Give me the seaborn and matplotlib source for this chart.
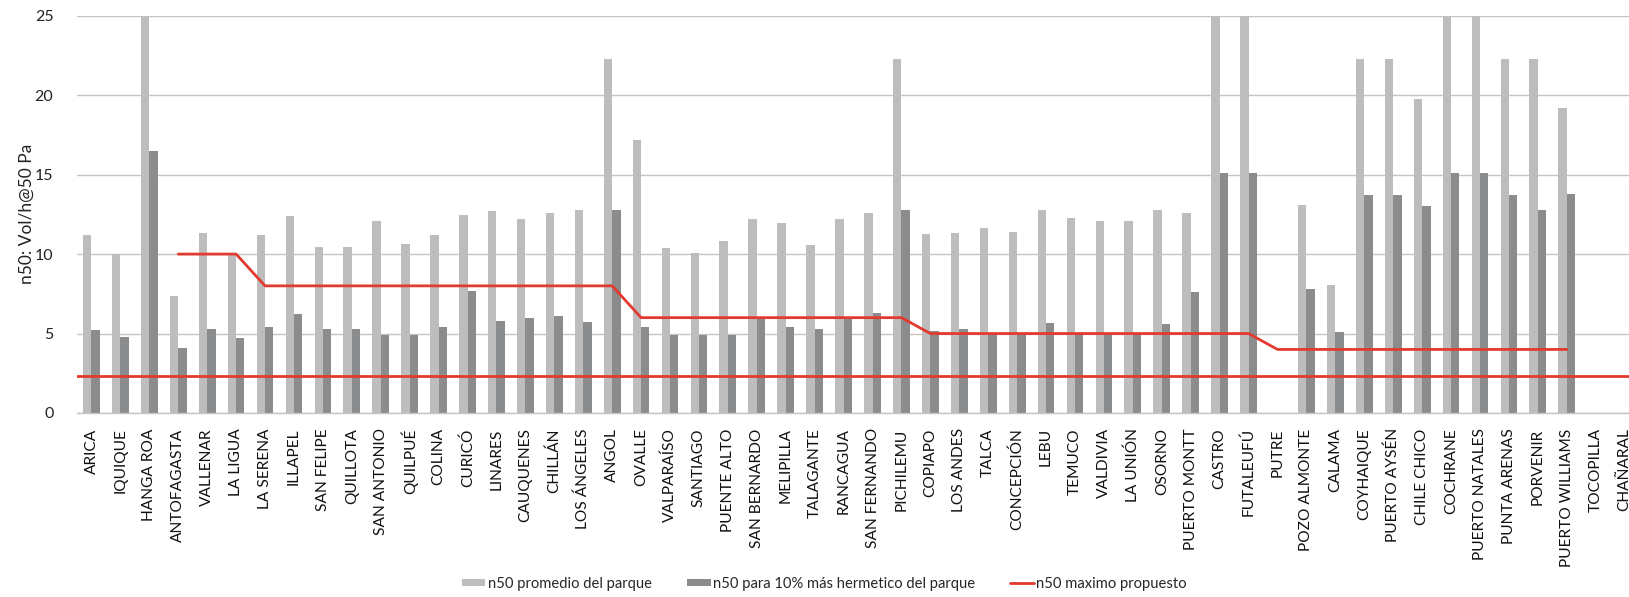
import numpy as np
import pandas as pd
import matplotlib
matplotlib.use("Agg")
import matplotlib.pyplot as plt
from matplotlib.patches import Patch
from matplotlib.lines import Line2D
import seaborn as sns

# categories (cities, north to south + a few at the end)
cities = [
    "ARICA", "IQUIQUE", "HANGA ROA", "ANTOFAGASTA", "VALLENAR", "LA LIGUA",
    "LA SERENA", "ILLAPEL", "SAN FELIPE", "QUILLOTA", "SAN ANTONIO", "QUILPUÉ",
    "COLINA", "CURICÓ", "LINARES", "CAUQUENES", "CHILLÁN", "LOS ÁNGELES",
    "ANGOL", "OVALLE", "VALPARAÍSO", "SANTIAGO", "PUENTE ALTO", "SAN BERNARDO",
    "MELIPILLA", "TALAGANTE", "RANCAGUA", "SAN FERNANDO", "PICHILEMU", "COPIAPO",
    "LOS ANDES", "TALCA", "CONCEPCIÓN", "LEBU", "TEMUCO", "VALDIVIA",
    "LA UNIÓN", "OSORNO", "PUERTO MONTT", "CASTRO", "FUTALEUFÚ", "PUTRE",
    "POZO ALMONTE", "CALAMA", "COYHAIQUE", "PUERTO AYSÉN", "CHILE CHICO", "COCHRANE",
    "PUERTO NATALES", "PUNTA ARENAS", "PORVENIR", "PUERTO WILLIAMS", "TOCOPILLA", "CHAÑARAL",
]

nan = np.nan
n50_promedio = [
    11.2, 10.0, 25.0, 7.35, 11.3, 10.0,
    11.2, 12.4, 10.45, 10.45, 12.1, 10.65,
    11.2, 12.45, 12.7, 12.2, 12.6, 12.8,
    22.3, 17.2, 10.4, 10.05, 10.8, 12.2,
    11.95, 10.6, 12.2, 12.6, 22.3, 11.25,
    11.35, 11.65, 11.4, 12.8, 12.3, 12.1,
    12.1, 12.75, 12.6, 25.0, 25.0, nan,
    13.1, 8.05, 22.3, 22.3, 19.75, 25.0,
    25.0, 22.3, 22.3, 19.2, nan, nan,
]
n50_hermetico = [
    5.2, 4.8, 16.5, 4.1, 5.3, 4.7,
    5.4, 6.2, 5.3, 5.3, 4.9, 4.9,
    5.4, 7.7, 5.8, 6.0, 6.1, 5.7,
    12.8, 5.4, 4.9, 4.9, 4.9, 6.0,
    5.4, 5.3, 6.0, 6.3, 12.8, 5.15,
    5.3, 5.05, 5.0, 5.65, 4.95, 4.95,
    4.95, 5.6, 7.6, 15.1, 15.1, nan,
    7.8, 5.1, 13.7, 13.7, 13.0, 15.1,
    15.1, 13.7, 12.8, 13.8, nan, nan,
]
n50_maximo = [
    nan, nan, nan, 10, 10, 10,
    8, 8, 8, 8, 8, 8,
    8, 8, 8, 8, 8, 8,
    8, 6, 6, 6, 6, 6,
    6, 6, 6, 6, 6, 5,
    5, 5, 5, 5, 5, 5,
    5, 5, 5, 5, 5, 4,
    4, 4, 4, 4, 4, 4,
    4, 4, 4, 4, nan, nan,
]
linea_base = 2.35

series_names = ["n50 promedio del parque", "n50 para 10% más hermetico del parque"]
label_max = "n50 maximo propuesto"

df = pd.DataFrame({
    "ciudad": cities * 2,
    "serie": [series_names[0]] * len(cities) + [series_names[1]] * len(cities),
    "n50": n50_promedio + n50_hermetico,
})

light = "#bebdbd"
dark = "#8a8c8d"
red = "#e23a2e"
grid_col = "#cbc3c1"

sns.set_style("white")
plt.rcParams["font.family"] = ["Lato", "DejaVu Sans"]

fig = plt.figure(figsize=(16.29, 5.97), dpi=100)
ax = fig.add_axes([77 / 1629, 1 - 413 / 597, 1 - 77 / 1629, (413 - 15.7) / 597])

sns.barplot(data=df, x="ciudad", y="n50", hue="serie", order=cities,
            hue_order=series_names, palette=[light, dark], width=0.58,
            errorbar=None, linewidth=0, saturation=1, legend=False,
            ax=ax, zorder=2)

sns.lineplot(x=np.arange(len(cities)), y=n50_maximo, color=red, lw=2.0,
             ax=ax, zorder=4)
ax.axhline(linea_base, color=red, lw=2.0, zorder=4)
if ax.get_legend() is not None:
    ax.get_legend().remove()

ax.set_xlim(-0.5, 53.15)
ax.set_ylim(0, 25)
ax.set_yticks([0, 5, 10, 15, 20, 25])
ax.yaxis.grid(True, color=grid_col, lw=1.0, zorder=0)
ax.set_axisbelow(True)
for s in ["left", "right", "top"]:
    ax.spines[s].set_visible(False)
ax.spines["bottom"].set_color(grid_col)
ax.spines["bottom"].set_linewidth(1.0)

ax.set_xlabel("")
ax.set_ylabel("n50: Vol/h@50 Pa", fontsize=12.5, color="#222222")
ax.yaxis.set_label_coords(-0.0275, 0.5)
ax.tick_params(axis="y", length=0, pad=17, labelsize=11.5, labelcolor="#222222")
ax.tick_params(axis="x", length=0, pad=11, labelsize=11.2, labelcolor="#111111")
ax.set_xticks(range(len(cities)))
ax.set_xticklabels(cities, rotation=90)

handles = [
    Patch(facecolor=light, edgecolor="none"),
    Patch(facecolor=dark, edgecolor="none"),
    Line2D([0], [0], color=red, lw=2.0),
]
fig.legend(handles, series_names + [label_max], loc="center", ncol=3,
           bbox_to_anchor=(0.506, 0.022), frameon=False, fontsize=10.6,
           handlelength=1.6, handleheight=0.4, handletextpad=0.15,
           columnspacing=2.4, borderpad=0.2)

fig.savefig("out.png", dpi=100)
